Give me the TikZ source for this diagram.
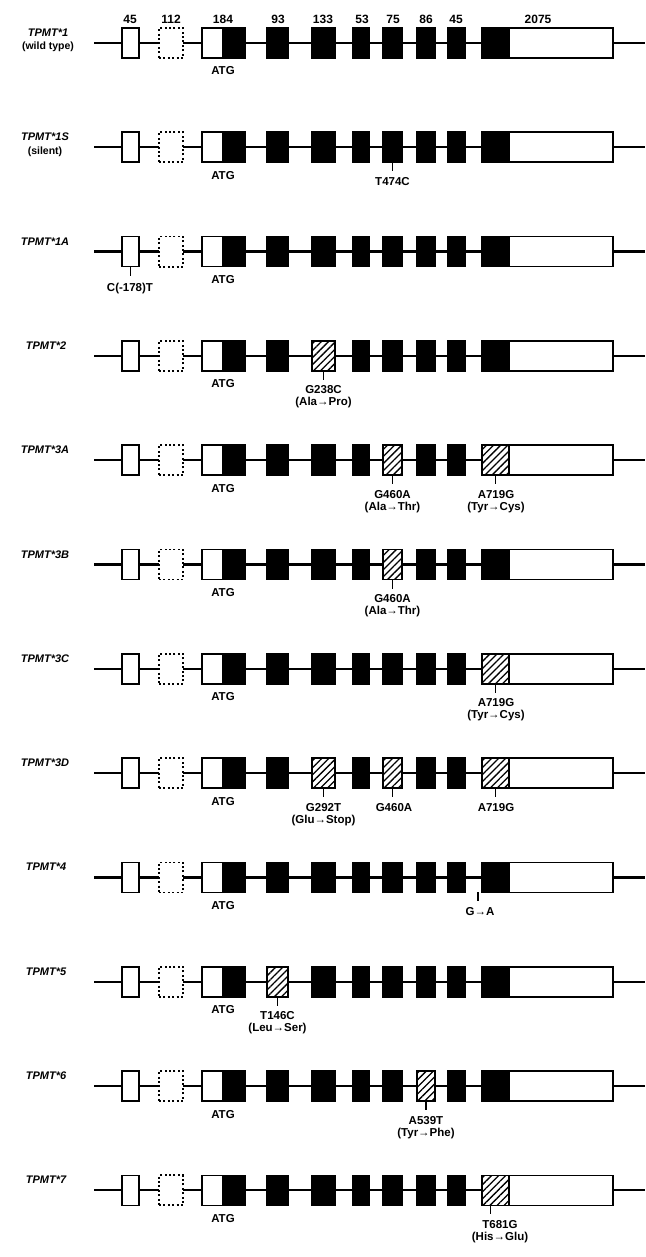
\documentclass[tikz,border=0pt]{standalone}
\usepackage{fontspec}
\setmainfont{Liberation Sans}
\usetikzlibrary{patterns.meta}
\tikzset{
  intron/.style={line width=2.2pt},
  exonbase/.style={draw, line width=1.6pt, minimum height=30pt, inner sep=0pt, outer sep=0pt},
  bex/.style={exonbase, fill=black},
  wex/.style={exonbase, fill=white},
  hex/.style={exonbase, fill=white, postaction={pattern={Lines[angle=45,distance=5pt,line width=1.3pt]}}},
  dex/.style={exonbase, fill=white, dash pattern=on 2pt off 2.4pt, line width=1.8pt},
  lbl/.style={font=\fontsize{11.5}{13}\selectfont\bfseries, inner sep=0pt, anchor=base},
  numlbl/.style={font=\fontsize{12}{14}\selectfont\bfseries, inner sep=0pt, anchor=base},
  genelbl/.style={font=\fontsize{11}{13}\selectfont\bfseries\itshape, inner sep=0pt, anchor=base},
  sublbl/.style={font=\fontsize{10.5}{12}\selectfont\bfseries, inner sep=0pt, anchor=base},
  tickline/.style={line width=1.7pt},
}
% #1 row name, #2 y, #3 e4, #4 e5, #5 e7, #6 e8, #7 e10a
\newcommand\tpmtrow[7]{%
  \coordinate (#1s) at (94,#2);
  \coordinate (#1t) at (645,#2);
  \draw[intron] (#1s) -- (#1t);
  \node[wex, minimum width=17pt] (#1e1) at (130.5,#2) {};
  \node[dex, minimum width=24pt] (#1e2) at (171,#2) {};
  \node[wex, minimum width=21pt] (#1e3a) at (212.5,#2) {};
  \node[bex, minimum width=22pt] (#1e3b) at (234,#2) {};
  \node[#3, minimum width=21pt] (#1e4) at (277.5,#2) {};
  \node[#4, minimum width=23pt] (#1e5) at (323.5,#2) {};
  \node[bex, minimum width=16pt] (#1e6) at (361,#2) {};
  \node[#5, minimum width=19pt] (#1e7) at (392.5,#2) {};
  \node[#6, minimum width=18pt] (#1e8) at (426,#2) {};
  \node[bex, minimum width=17pt] (#1e9) at (456.5,#2) {};
  \node[#7, minimum width=27pt] (#1e10a) at (495.5,#2) {};
  \node[wex, minimum width=104pt] (#1e10b) at (561,#2) {};
  \node[lbl] (#1atg) at (223,#2+32) {ATG};
}
\begin{document}
\begin{tikzpicture}[x=1pt,y=-1pt]
\useasboundingbox (0,0) rectangle (645,1257);
% exon sizes
\node[numlbl] (n1) at (130,23.5) {45};
\node[numlbl] (n2) at (171,23.5) {112};
\node[numlbl] (n3) at (223,23.5) {184};
\node[numlbl] (n4) at (278,23.5) {93};
\node[numlbl] (n5) at (323,23.5) {133};
\node[numlbl] (n6) at (362,23.5) {53};
\node[numlbl] (n7) at (393,23.5) {75};
\node[numlbl] (n8) at (426,23.5) {86};
\node[numlbl] (n9) at (456,23.5) {45};
\node[numlbl] (n10) at (538,23.5) {2075};

% row 0: *1
\tpmtrow{ra}{43}{bex}{bex}{bex}{bex}{bex}
\node[genelbl] (ran) at (48,43-6.5) {TPMT*1};
\node[sublbl] (rasub) at (48,43+7) {(wild type)};

% row 1: *1S
\tpmtrow{rb}{147.3}{bex}{bex}{bex}{bex}{bex}
\node[genelbl] (rbn) at (45,147.3-6.5) {TPMT*1S};
\node[sublbl] (rbsub) at (45,147.3+7) {(silent)};
\draw[tickline] (rbe7.south) -- ++(0,9);
\node[lbl] (rbm1) at (392.5,147.3+38) {T474C};

% row 2: *1A
\tpmtrow{rc}{251.6}{bex}{bex}{bex}{bex}{bex}
\node[genelbl] (rcn) at (45,251.6-6.5) {TPMT*1A};
\draw[tickline] (rce1.south) -- ++(0,9);
\node[lbl] (rcm1) at (130,251.6+40) {C(-178)T};

% row 3: *2
\tpmtrow{rd}{355.9}{bex}{hex}{bex}{bex}{bex}
\node[genelbl] (rdn) at (46,355.9-6.5) {TPMT*2};
\draw[tickline] (rde5.south) -- ++(0,9);
\node[lbl] (rdm1) at (323.5,355.9+38) {G238C};
\node[lbl] (rdm1b) at (323.5,355.9+50) {(Ala→Pro)};

% row 4: *3A
\tpmtrow{re}{460.2}{bex}{bex}{hex}{bex}{hex}
\node[genelbl] (ren) at (45,460.2-6.5) {TPMT*3A};
\draw[tickline] (ree7.south) -- ++(0,9);
\node[lbl] (rem1) at (392.5,460.2+38) {G460A};
\node[lbl] (rem1b) at (392.5,460.2+50) {(Ala→Thr)};
\draw[tickline] (ree10a.south) -- ++(0,9);
\node[lbl] (rem2) at (496,460.2+38) {A719G};
\node[lbl] (rem2b) at (496,460.2+50) {(Tyr→Cys)};

% row 5: *3B
\tpmtrow{rf}{564.5}{bex}{bex}{hex}{bex}{bex}
\node[genelbl] (rfn) at (45,564.5-6.5) {TPMT*3B};
\draw[tickline] (rfe7.south) -- ++(0,9);
\node[lbl] (rfm1) at (392.5,564.5+38) {G460A};
\node[lbl] (rfm1b) at (392.5,564.5+50) {(Ala→Thr)};

% row 6: *3C
\tpmtrow{rg}{668.8}{bex}{bex}{bex}{bex}{hex}
\node[genelbl] (rgn) at (45,668.8-6.5) {TPMT*3C};
\draw[tickline] (rge10a.south) -- ++(0,9);
\node[lbl] (rgm1) at (496,668.8+38) {A719G};
\node[lbl] (rgm1b) at (496,668.8+50) {(Tyr→Cys)};

% row 7: *3D
\tpmtrow{rh}{773.1}{bex}{hex}{hex}{bex}{hex}
\node[genelbl] (rhn) at (45,773.1-6.5) {TPMT*3D};
\draw[tickline] (rhe5.south) -- ++(0,9);
\node[lbl] (rhm1) at (323.5,773.1+38) {G292T};
\node[lbl] (rhm1b) at (323.5,773.1+50) {(Glu→Stop)};
\draw[tickline] (rhe7.south) -- ++(0,9);
\node[lbl] (rhm2) at (394,773.1+38) {G460A};
\draw[tickline] (rhe10a.south) -- ++(0,9);
\node[lbl] (rhm3) at (496,773.1+38) {A719G};

% row 8: *4
\tpmtrow{ri}{877.4}{bex}{bex}{bex}{bex}{bex}
\node[genelbl] (rin) at (46,877.4-6.5) {TPMT*4};
\coordinate (rimk) at (478,877.4+15);
\draw[tickline] (rimk) -- ++(0,9);
\node[lbl] (rim1) at (480,877.4+38) {G→A};

% row 9: *5
\tpmtrow{rj}{981.7}{hex}{bex}{bex}{bex}{bex}
\node[genelbl] (rjn) at (46,981.7-6.5) {TPMT*5};
\draw[tickline] (rje4.south) -- ++(0,9);
\node[lbl] (rjm1) at (277.5,981.7+38) {T146C};
\node[lbl] (rjm1b) at (277.5,981.7+50) {(Leu→Ser)};

% row 10: *6
\tpmtrow{rk}{1086}{bex}{bex}{bex}{hex}{bex}
\node[genelbl] (rkn) at (46,1086-6.5) {TPMT*6};
\draw[tickline] (rke8.south) -- ++(0,9);
\node[lbl] (rkm1) at (426,1086+38) {A539T};
\node[lbl] (rkm1b) at (426,1086+50) {(Tyr→Phe)};

% row 11: *7
\tpmtrow{rl}{1190.3}{bex}{bex}{bex}{bex}{hex}
\node[genelbl] (rln) at (46,1190.3-6.5) {TPMT*7};
\draw[tickline] ([xshift=-5pt]rle10a.south) -- ++(0,9);
\node[lbl] (rlm1) at (500,1190.3+38) {T681G};
\node[lbl] (rlm1b) at (500,1190.3+50) {(His→Glu)};
\end{tikzpicture}
\end{document}
